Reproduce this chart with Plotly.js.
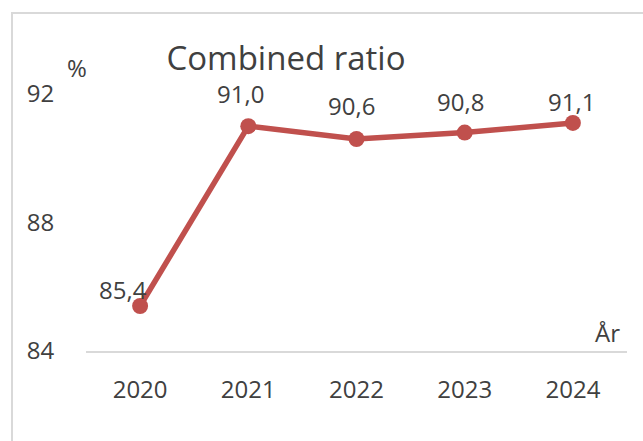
<!DOCTYPE html>
<html>
<head>
<meta charset="utf-8">
<script src="https://cdn.plot.ly/plotly-3.0.1.min.js"></script>
<style>
  html, body { margin: 0; padding: 0; background: #ffffff; }
  #wrap { position: relative; width: 643px; height: 441px; overflow: hidden; }
  #chart { position: absolute; left: 0; top: 0; width: 643px; height: 441px; }
  #frame { position: absolute; left: 11px; top: 12px; width: 700px; height: 500px;
           border-left: 2px solid #d9d9d9; border-top: 2px solid #d9d9d9; pointer-events: none; }
</style>
</head>
<body>
<div id="wrap">
  <div id="chart"></div>
  <div id="frame"></div>
</div>
<script>
// ---- data ----
const years = ["2020", "2021", "2022", "2023", "2024"];
const combinedRatio = [85.4, 91.0, 90.6, 90.8, 91.1];
const yTickValues = [84, 88, 92];
const titleText = "Combined ratio";
const yUnit = "%";
const xUnit = "År";

// ---- style ----
const FONT = "Open Sans, sans-serif";
const TXT = "#404040";
const RED = "#C0504D";
const labelShift = [[-17, 17], [-8, 33], [-5, 33], [-4, 31], [-1, 21]];

const trace = {
  type: "scatter",
  mode: "lines+markers",
  x: years,
  y: combinedRatio,
  line: { color: RED, width: 5.5 },
  marker: { color: RED, size: 16 },
  cliponaxis: false,
  hoverinfo: "skip"
};

// category axis: annotations placed by category index
const labelAnnotations = years.map((yr, i) => ({
  x: i, y: combinedRatio[i], xref: "x", yref: "y",
  text: combinedRatio[i].toFixed(1).replace(".", ","),
  showarrow: false, xanchor: "center", yanchor: "middle",
  xshift: labelShift[i][0], yshift: labelShift[i][1],
  font: { family: FONT, size: 24, color: TXT }
}));

const layout = {
  width: 643, height: 441,
  margin: { l: 86, r: 16, t: 94, b: 90, pad: 0 },
  paper_bgcolor: "#ffffff", plot_bgcolor: "#ffffff",
  showlegend: false,
  separators: ",.",
  title: {
    text: titleText,
    x: 286 / 643, xref: "container", xanchor: "center",
    y: 1 - 58 / 441, yref: "container", yanchor: "middle",
    font: { family: FONT, size: 33, color: TXT }
  },
  xaxis: {
    type: "category",
    range: [-0.5, 4.5],
    showgrid: false, zeroline: false,
    showline: true, linecolor: "#d9d9d9", linewidth: 2,
    ticks: "", ticklabelstandoff: 16,
    tickfont: { family: FONT, size: 24, color: TXT },
    fixedrange: true
  },
  yaxis: {
    range: [84, 92],
    tickvals: yTickValues,
    ticktext: yTickValues.map(String),
    showgrid: false, zeroline: false, showline: false,
    ticks: "outside", ticklen: 26, tickcolor: "rgba(0,0,0,0)",
    tickfont: { family: FONT, size: 24, color: TXT },
    fixedrange: true
  },
  annotations: labelAnnotations.concat([
    { text: yUnit, xref: "paper", yref: "paper",
      x: (77 - 86) / 541, y: (351 - 68) / 257, xanchor: "center", yanchor: "middle",
      showarrow: false, font: { family: FONT, size: 24, color: TXT } },
    { text: xUnit, xref: "paper", yref: "paper",
      x: (607 - 86) / 541, y: 0, xanchor: "center", yanchor: "bottom",
      showarrow: false, font: { family: FONT, size: 24, color: TXT } }
  ])
};

Plotly.newPlot("chart", [trace], layout, { staticPlot: true, displayModeBar: false });
</script>
</body>
</html>
